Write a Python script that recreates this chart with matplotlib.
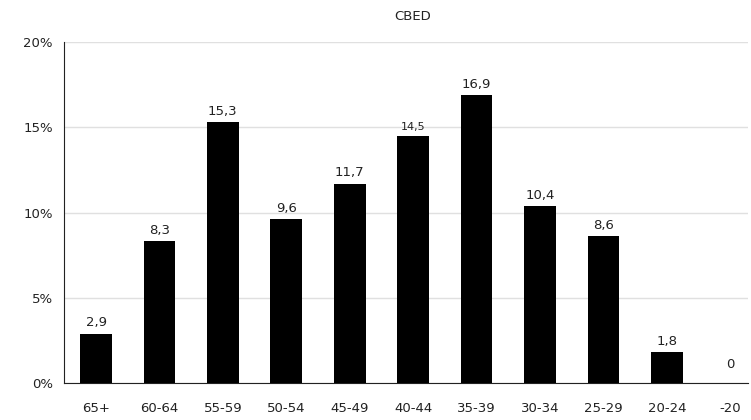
import matplotlib
matplotlib.use("Agg")
import matplotlib.pyplot as plt
from matplotlib.ticker import FuncFormatter

categories = ["65+", "60-64", "55-59", "50-54", "45-49", "40-44", "35-39", "30-34", "25-29", "20-24", "-20"]
values = [2.9, 8.3, 15.3, 9.6, 11.7, 14.5, 16.9, 10.4, 8.6, 1.8, 0]
labels = ["2,9", "8,3", "15,3", "9,6", "11,7", "14,5", "16,9", "10,4", "8,6", "1,8", "0"]
yticks = [0, 5, 10, 15, 20]

plt.rcParams['font.family'] = ['DejaVu Sans']

fig = plt.figure(figsize=(7.51, 4.20), dpi=100)
ax = fig.add_axes([64/751, 1-383/420, (748-64)/751, (383-42)/420])

x = list(range(len(categories)))
ax.bar(x, values, width=0.5, color="black", zorder=3)
for i, (v, lab) in enumerate(zip(values, labels)):
    fs = 8 if lab == "14,5" else 9.5
    off = 3 if v > 0 else 9
    ax.annotate(lab, (i, v), xytext=(0, off), textcoords="offset points",
                ha="center", va="bottom", fontsize=fs, color="#222222")

ax.set_xlim(-0.505, 10.28)
ax.set_ylim(0, 20)
ax.set_yticks(yticks)
ax.yaxis.set_major_formatter(FuncFormatter(lambda v, p: f"{int(v)}%"))
ax.set_xticks(x)
ax.set_xticklabels(categories)
ax.tick_params(axis="both", length=0, labelsize=9.5, colors="#222222")
ax.tick_params(axis="y", pad=8)
ax.tick_params(axis="x", pad=14)
ax.grid(axis="y", color="#e0e0e0", linewidth=1, zorder=0)
for s in ["top", "right"]:
    ax.spines[s].set_visible(False)
ax.spines["left"].set_color("#222222")
ax.spines["bottom"].set_color("#222222")
ax.spines["left"].set_zorder(4)
fig.text(413/751, 1-17/420, "CBED", ha="center", va="center", fontsize=9.5, color="#222222")

fig.savefig("out.png", dpi=100)
